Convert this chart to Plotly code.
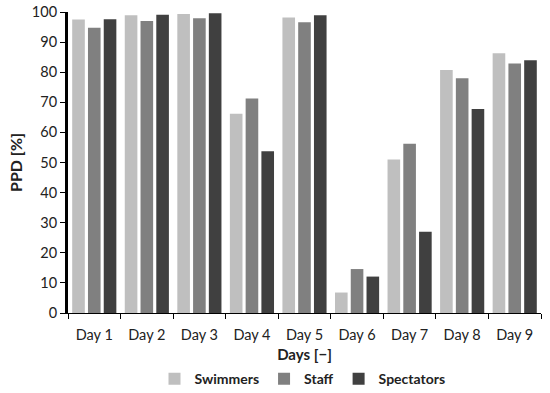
import plotly.graph_objects as go

days = ["Day 1", "Day 2", "Day 3", "Day 4", "Day 5", "Day 6", "Day 7", "Day 8", "Day 9"]
swimmers = [97.5, 98.9, 99.3, 66.2, 98.2, 6.8, 51.0, 80.7, 86.3]
staff = [94.8, 97.0, 97.9, 71.3, 96.6, 14.6, 56.2, 78.0, 82.9]
spectators = [97.6, 99.1, 99.6, 53.7, 98.9, 12.1, 27.0, 67.8, 84.0]

series = [("Swimmers", swimmers, "#bfbfbf"), ("Staff", staff, "#808080"), ("Spectators", spectators, "#404040")]

fig = go.Figure()
for name, vals, col in series:
    fig.add_trace(go.Bar(x=days, y=vals, name=name, marker=dict(color=col, line=dict(width=0))))

font = "Lato, Liberation Sans, sans-serif"
fig.update_layout(
    width=550, height=393,
    margin=dict(l=68, r=9, t=12, b=80),
    plot_bgcolor="white", paper_bgcolor="white",
    barmode="group", bargap=0.1, bargroupgap=0.2,
    font=dict(family=font, size=14.5, color="#222"),
    showlegend=True,
    legend=dict(orientation="h", x=0.55, xanchor="center", xref="container",
                y=0.035, yanchor="middle", yref="container",
                font=dict(size=14, color="#222", family=font, weight="bold"),
                itemwidth=30, tracegroupgap=0),
    xaxis=dict(showline=True, linecolor="black", linewidth=1, ticks="outside", tickson="boundaries",
               ticklen=5, tickcolor="black", showgrid=False, automargin=False, ticklabelstandoff=9,
               title=dict(text="<b>Days [−]</b>", font=dict(size=15), standoff=12)),
    yaxis=dict(range=[0, 100], dtick=10, showline=True, linecolor="black", linewidth=3,
               ticks="outside", ticklen=5, tickcolor="black", tickwidth=1, showgrid=False, zeroline=False,
               automargin=False,
               title=dict(text="<b>PPD [%]</b>", font=dict(size=16), standoff=6)),
)
fig.write_html("out.html", config={"displayModeBar": False},
               post_script="document.body.style.margin='0';document.body.style.overflow='hidden';")
